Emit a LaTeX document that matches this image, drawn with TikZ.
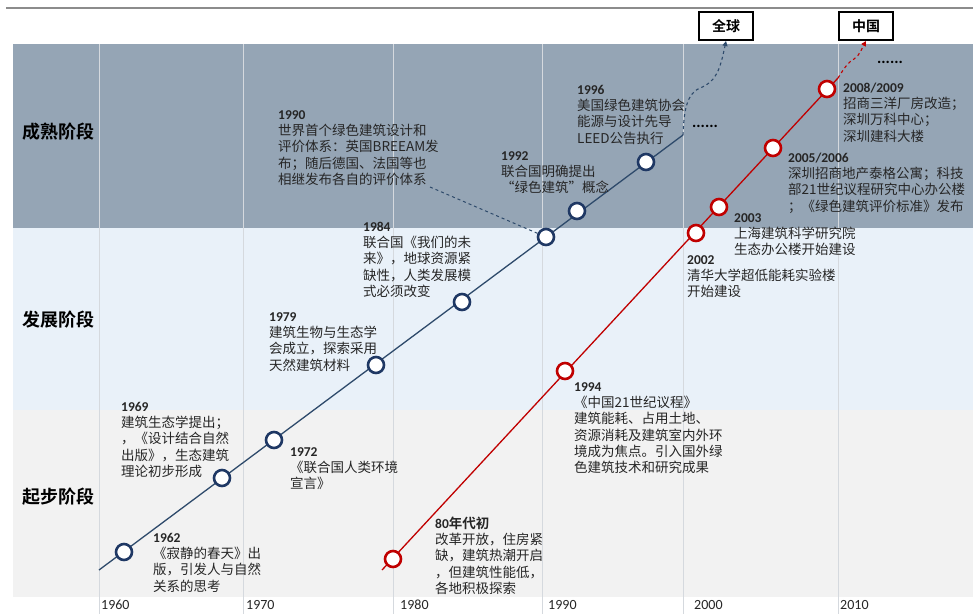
\documentclass[tikz,border=0pt]{standalone}
\usepackage{fontspec}
\setmainfont{Noto Sans CJK SC}[BoldFont={Noto Sans CJK SC Bold}]
\newfontfamily\yrfont{Carlito}
\usetikzlibrary{arrows.meta}
\definecolor{topband}{HTML}{95A5B5}
\definecolor{midband}{HTML}{E9F1F9}
\definecolor{lowband}{HTML}{F2F2F2}
\definecolor{gridc}{HTML}{D5D9DE}
\definecolor{navy}{HTML}{1F3864}
\definecolor{navyline}{HTML}{2E4A6B}
\definecolor{redc}{HTML}{C00000}
\definecolor{txt}{HTML}{262626}
\newcommand\yrtxt[1]{{\yrfont\bfseries #1}}
\tikzset{
  evt/.style={anchor=base west, align=left, inner sep=0pt, text=txt, font=\fontsize{13.5}{16.3}\selectfont},
  bdot/.style={circle, draw=navy, line width=2.6pt, fill=white, minimum size=16pt, inner sep=0pt},
  rdot/.style={circle, draw=redc, line width=2.6pt, fill=white, minimum size=16pt, inner sep=0pt},
  stage/.style={anchor=west, inner sep=0pt, text=black, font=\fontsize{18}{20}\selectfont\bfseries},
  axlab/.style={anchor=west, inner sep=0pt, text=txt, font=\yrfont\fontsize{14}{16}\selectfont},
  tag/.style={draw=black, line width=2pt, fill=white, minimum width=54pt, minimum height=28pt, inner sep=0pt, font=\fontsize{14}{16}\selectfont\bfseries},
  dotsl/.style={inner sep=0pt, text=black, font=\yrfont\bfseries\fontsize{16}{16}\selectfont}
}
\begin{document}
\begin{tikzpicture}[x=1pt,y=-1pt]
\useasboundingbox (0,0) rectangle (973,614);
\fill[white] (0,0) rectangle (973,614);
% top rule
\draw[color=gray!90, line width=1.5pt] (6,8) -- (973,8);
% bands
\fill[topband] (13,44) rectangle (973,228);
\fill[midband] (13,228) rectangle (973,410);
\fill[lowband] (13,410) rectangle (973,597);
% grid lines
\foreach \gx in {99,243,393,542,683,838}
  \draw[gridc, line width=1pt] (\gx,44) -- (\gx,614);
% stage labels
\node[stage] (s1) at (22,132) {成熟阶段};
\node[stage] (s2) at (22,320) {发展阶段};
\node[stage] (s3) at (22,497) {起步阶段};
% axis labels
\node[axlab] (a1960) at (101,605) {1960};
\node[axlab] (a1970) at (246,605) {1970};
\node[axlab] (a1980) at (400,605) {1980};
\node[axlab] (a1990) at (548,605) {1990};
\node[axlab] (a2000) at (694,605) {2000};
\node[axlab] (a2010) at (840,605) {2010};
% tags
\node[tag] (global) at (726,26) {全球};
\node[tag] (china) at (866,26) {中国};
% line coordinates
\coordinate (bstart) at (99,570);
\coordinate (bend) at (683,135);
\coordinate (rstart) at (382,570);
\coordinate (rend) at (838,78);
\coordinate (d1990) at (430,187);
% connectors (drawn under circles)
\draw[navyline, line width=1.3pt] (bstart) -- (bend);
\draw[redc, line width=1.3pt] (rstart) -- (rend);
\draw[navyline, line width=1.1pt, dashed, -{Triangle[length=5pt,width=5pt]}]
  (bend) .. controls (684,112) and (686,94) .. (700,88) .. controls (716,82) and (720,70) .. (global.south);
\draw[redc, line width=1.1pt, dashed, -{Triangle[length=5pt,width=5pt]}]
  (rend) .. controls (843,70) and (848,62) .. (854,59) .. controls (860,55) and (862,48) .. (china.south);
% blue events
\node[bdot] (c1962) at (124,552) {};
\node[bdot] (c1969) at (222,478) {};
\node[bdot] (c1972) at (274,440) {};
\node[bdot] (c1979) at (376,365) {};
\node[bdot] (c1984) at (462,302) {};
\node[bdot] (c1990) at (546,237) {};
\node[bdot] (c1992) at (577,211) {};
\node[bdot] (c1996) at (646,162) {};
\draw[navyline, line width=1pt, dashed] (d1990) -- (c1990);
% red events
\node[rdot] (c1980s) at (393,559) {};
\node[rdot] (c1994) at (565,371) {};
\node[rdot] (c2002) at (696,233) {};
\node[rdot] (c2003) at (719,207) {};
\node[rdot] (c2005) at (773,148) {};
\node[rdot] (c2008) at (827,89) {};
% dots
\node[dotsl] (more1) at (705,126) {......};
\node[dotsl] (more2) at (890,62) {......};
% texts (anchor = baseline of last line)
\node[evt] (t1962) at (153,591.2) {\yrtxt{1962}\\《寂静的春天》出\\版，引发人与自然\\关系的思考};
\node[evt] (t1969) at (121,476.5) {\yrtxt{1969}\\建筑生态学提出；\\，《设计结合自然\\出版》，生态建筑\\理论初步形成};
\node[evt] (t1972) at (290,488.9) {\yrtxt{1972}\\《联合国人类环境\\宣言》};
\node[evt] (t1979) at (269,370.2) {\yrtxt{1979}\\建筑生物与生态学\\会成立，探索采用\\天然建筑材料};
\node[evt] (t1984) at (363,296.5) {\yrtxt{1984}\\联合国《我们的未\\来》，地球资源紧\\缺性，人类发展模\\式必须改变};
\node[evt] (t1990) at (278,184.5) {\yrtxt{1990}\\世界首个绿色建筑设计和\\评价体系：英国BREEAM发\\布；随后德国、法国等也\\相继发布各自的评价体系};
\node[evt] (t1992) at (501,192.9) {\yrtxt{1992}\\联合国明确提出\\“绿色建筑”概念};
\node[evt] (t1996) at (577,143.2) {\yrtxt{1996}\\美国绿色建筑协会\\能源与设计先导\\LEED公告执行};
\node[evt] (t1980s) at (435,593.5) {{\bfseries\yrtxt{80}年代初}\\改革开放，住房紧\\缺，建筑热潮开启\\，但建筑性能低，\\各地积极探索};
\node[evt] (t1994) at (574,472.8) {\yrtxt{1994}\\《中国21世纪议程》\\建筑能耗、占用土地、\\资源消耗及建筑室内外环\\境成为焦点。引入国外绿\\色建筑技术和研究成果};
\node[evt] (t2002) at (687,296.9) {\yrtxt{2002}\\清华大学超低能耗实验楼\\开始建设};
\node[evt] (t2003) at (734,254.9) {\yrtxt{2003}\\上海建筑科学研究院\\生态办公楼开始建设};
\node[evt] (t2005) at (788,211.2) {\yrtxt{2005/2006}\\深圳招商地产泰格公寓；科技\\部21世纪议程研究中心办公楼\\；《绿色建筑评价标准》发布};
\node[evt] (t2008) at (843,141.2) {\yrtxt{2008/2009}\\招商三洋厂房改造；\\深圳万科中心；\\深圳建科大楼};
\end{tikzpicture}
\end{document}
